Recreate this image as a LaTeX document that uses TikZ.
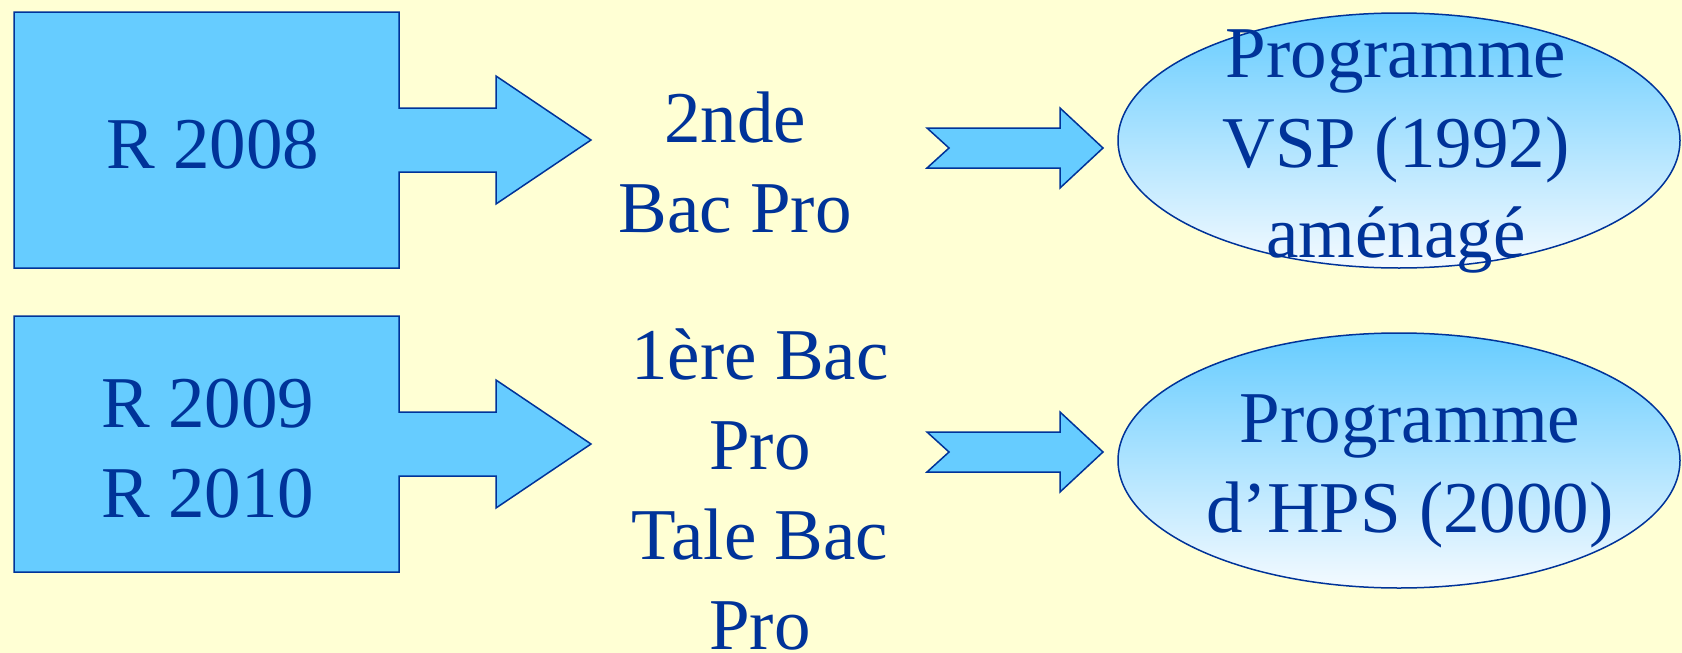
\documentclass[tikz,border=0pt]{standalone}
\usepackage{fontspec}
\setmainfont{Liberation Serif}
\usetikzlibrary{shapes.geometric}
\definecolor{slidebg}{RGB}{255,255,212}
\definecolor{boxblue}{RGB}{102,204,255}
\definecolor{inkblue}{RGB}{0,51,153}
\definecolor{paleblue}{RGB}{244,250,255}
\tikzset{%
  big text/.style={
    text=inkblue,
    font=\fontsize{73}{90}\selectfont,
    align=center,
    anchor=base,
    inner sep=0pt
  },
  call shape/.style={
    draw=inkblue,
    fill=boxblue,
    line width=1.5pt
  },
  prog/.style={
    ellipse,
    draw=inkblue,
    line width=1.5pt,
    top color=boxblue,
    bottom color=paleblue,
    minimum width=562pt,
    minimum height=255pt,
    inner sep=0pt
  },
}

\begin{document}
\begin{tikzpicture}[x=1pt,y=-1pt]
  \fill[slidebg] (0,0) rectangle (1682,653);
  \useasboundingbox (0,0) rectangle (1682,653);
  % boxes with their arrows
  \foreach \yc in {140,444} {
    \draw[call shape] (14,\yc-128) -- (399,\yc-128) -- (399,\yc-32) -- (496,\yc-32) -- (496,\yc-64)
      -- (591,\yc) -- (496,\yc+64) -- (496,\yc+32) -- (399,\yc+32) -- (399,\yc+128) -- (14,\yc+128) -- cycle;
  }
  % small notched arrows
  \foreach \yc in {148,452} {
    \draw[call shape] (927,\yc-20) -- (1060,\yc-20) -- (1060,\yc-40) -- (1103,\yc)
      -- (1060,\yc+40) -- (1060,\yc+20) -- (927,\yc+20) -- (949,\yc) -- cycle;
  }
  \node[prog] (vsp) at (1399,140.5) {};
  \node[prog] (hps) at (1399,460.5) {};
  % texts, placed by the baseline of their last line
  \node[big text] (r8) at (213,168) {R 2008};
  \node[big text] (r910) at (208,517) {R 2009\\R 2010};
  \node[big text] (snd) at (735,232) {2nde\\Bac Pro};
  \node[big text] (prt) at (760,649) {1ère Bac\\Pro\\Tale Bac\\Pro};
  \node[big text] (vspt) at (1396,257) {Programme\\VSP (1992)\\aménagé};
  \node[big text] (hpst) at (1410,532) {Programme\\d’HPS (2000)};
\end{tikzpicture}
\end{document}
